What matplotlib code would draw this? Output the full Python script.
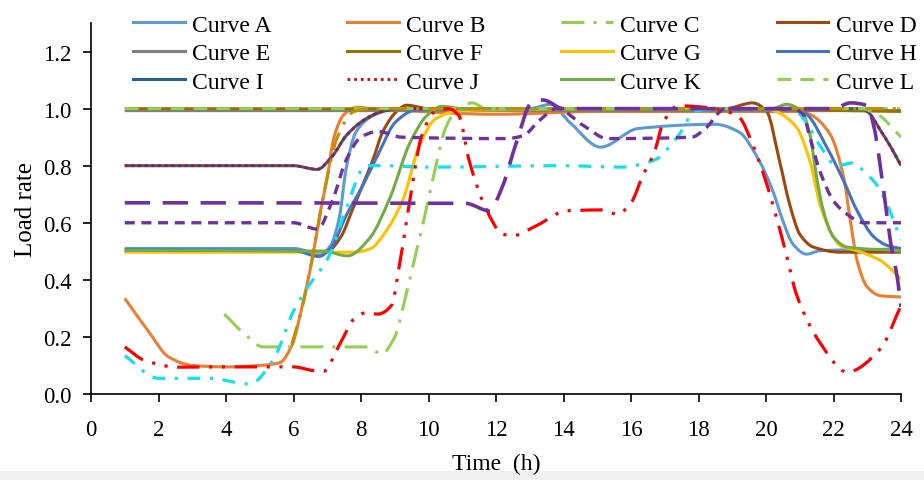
""" =======================  Import dependencies ========================== """
import numpy as np
import matplotlib
matplotlib.use('Agg')
from matplotlib import pyplot as plt
from matplotlib.path import Path
from matplotlib.patches import PathPatch, Rectangle
from matplotlib.lines import Line2D
from matplotlib.ticker import FormatStrFormatter

plt.rcParams['font.family'] = ['Liberation Serif', 'DejaVu Serif']

""" =======================  Data read from the chart ======================= """
A_x = [1, 6.0, 6.8, 7.1, 7.36, 7.56, 7.85, 8.35, 9.0, 13.0, 13.6, 14.2, 15.1, 16.2, 18.5, 19.2, 19.8, 20.2, 20.5, 20.8, 21.2, 21.6, 24]
A_y = [0.51, 0.51, 0.49, 0.52, 0.62, 0.79, 0.918, 0.975, 1.0, 1.0, 1.015, 0.95, 0.865, 0.93, 0.945, 0.918, 0.817, 0.712, 0.607, 0.525, 0.49, 0.502, 0.508]

B_x = [1, 1.7, 2.3, 3.0, 4.0, 5.0, 5.6, 5.95, 6.3, 6.55, 6.8, 7.0, 7.2, 7.5, 7.9, 8.3, 9.0, 12.0, 15.0, 21.0, 21.3, 21.9, 22.3, 22.5, 22.7, 23.0, 23.4, 24]
B_y = [0.335, 0.22, 0.13, 0.1, 0.095, 0.1, 0.11, 0.17, 0.33, 0.47, 0.64, 0.76, 0.9, 0.98, 1.005, 1.0, 0.995, 0.98, 0.99, 0.99, 0.98, 0.91, 0.76, 0.607, 0.467, 0.375, 0.344, 0.34]

C_x = [3.95, 4.6, 5.1, 6.0, 8.2, 8.6, 9.0, 9.3, 9.6, 9.9, 10.2, 10.5, 10.8, 11.3, 11.7, 12.5, 24]
C_y = [0.28, 0.205, 0.165, 0.165, 0.165, 0.14, 0.2, 0.33, 0.48, 0.63, 0.79, 0.93, 0.99, 1.02, 1.0, 1.0, 1.0]

D_x = [1, 7.0, 7.4, 7.76, 8.35, 8.65, 9.1, 9.35, 10.0, 18.8, 19.6, 20.02, 20.4, 20.7, 21.0, 21.4, 22.2, 24]
D_y = [0.5, 0.5, 0.55, 0.65, 0.82, 0.92, 0.995, 1.012, 1.0, 1.0, 1.02, 0.99, 0.817, 0.665, 0.56, 0.515, 0.497, 0.497]

E_x = [1, 24]
E_y = [0.993, 0.993]

F_x = [1, 20, 24]
F_y = [1.0, 0.997, 0.99]

G_x = [1, 7.8, 8.3, 8.65, 9.24, 9.73, 10.2, 10.8, 11.5, 20.0, 20.3, 20.9, 21.3, 21.6, 21.9, 22.2, 22.7, 23.4, 24]
G_y = [0.497, 0.497, 0.51, 0.555, 0.68, 0.87, 0.963, 0.99, 0.995, 1.0, 0.99, 0.935, 0.817, 0.665, 0.572, 0.52, 0.502, 0.467, 0.403]

H_x = [1, 6.0, 6.75, 7.1, 7.56, 8.05, 8.55, 9.0, 9.6, 10.2, 20.8, 21.2, 21.8, 22.3, 22.7, 23.2, 23.6, 24]
H_y = [0.505, 0.503, 0.482, 0.51, 0.625, 0.73, 0.85, 0.95, 0.995, 1.0, 1.0, 0.98, 0.865, 0.747, 0.642, 0.55, 0.52, 0.51]

I_x = [1, 6.0, 6.7, 7.16, 7.56, 8.05, 8.55, 9.1, 10.0, 22.8, 23.0, 23.4, 23.7, 24]
I_y = [0.8, 0.8, 0.787, 0.835, 0.905, 0.957, 0.987, 1.0, 1.0, 1.0, 0.99, 0.922, 0.865, 0.8]

J_x = I_x
J_y = I_y

K_x = [1, 6.9, 7.6, 8.25, 8.85, 9.45, 9.95, 10.4, 11.0, 20.2, 20.6, 21.06, 21.3, 21.5, 21.7, 22.0, 22.4, 24]
K_y = [0.503, 0.5, 0.484, 0.545, 0.685, 0.88, 0.975, 1.008, 1.0, 1.0, 1.015, 0.99, 0.91, 0.76, 0.642, 0.55, 0.515, 0.502]

L_x = [1, 22.8, 23.3, 24]
L_y = [1.0, 1.0, 0.98, 0.9]

# series without a legend entry
M_x = [1, 1.6, 2.6, 4.0, 6.0, 6.6, 6.9, 7.35, 7.85, 8.15, 8.5, 8.9, 9.15, 9.45, 9.8, 10.2, 10.6, 10.9, 11.2, 11.7, 12.2, 12.5, 13.2, 14.1, 15.1, 15.6, 16.0, 16.35, 16.7, 16.95, 17.4, 18.5, 19.2, 19.6, 19.9, 20.2, 20.6, 20.9, 21.6, 22.4, 23.4, 24]
M_y = [0.165, 0.117, 0.094, 0.095, 0.095, 0.082, 0.08, 0.17, 0.27, 0.285, 0.28, 0.31, 0.46, 0.68, 0.905, 0.99, 1.0, 0.975, 0.82, 0.65, 0.56, 0.555, 0.59, 0.642, 0.645, 0.63, 0.67, 0.765, 0.85, 0.95, 1.01, 1.0, 0.97, 0.876, 0.78, 0.665, 0.49, 0.35, 0.18, 0.077, 0.16, 0.31]

N_x = [1, 2.0, 3.5, 4.7, 5.4, 6.0, 6.4, 7.06, 7.56, 8.15, 8.6, 10.0, 14.0, 15.7, 16.7, 17.4, 17.9, 18.5, 20.8, 21.2, 21.6, 22.1, 22.6, 22.9, 23.3, 23.6, 24]
N_y = [0.134, 0.055, 0.055, 0.035, 0.12, 0.29, 0.37, 0.485, 0.65, 0.8, 0.8, 0.795, 0.8, 0.795, 0.82, 0.905, 0.99, 1.0, 1.0, 0.95, 0.87, 0.8, 0.81, 0.78, 0.73, 0.66, 0.54]

O_x = [1, 11.1, 11.8, 12.2, 12.6, 13.05, 13.4, 14.0, 22.0, 22.5, 23.0, 23.2, 23.5, 23.7, 23.9, 24]
O_y = [0.67, 0.668, 0.642, 0.73, 0.88, 1.02, 1.03, 1.0, 1.0, 1.02, 1.01, 0.935, 0.70, 0.525, 0.4, 0.305]

P_x = [1, 6.0, 6.7, 7.16, 7.56, 8.0, 8.5, 9.2, 12.3, 12.8, 13.3, 13.8, 14.6, 15.3, 17.8, 18.2, 18.8, 20.8, 21.1, 21.3, 21.6, 22.0, 22.4, 22.9, 24]
P_y = [0.6, 0.6, 0.578, 0.68, 0.82, 0.9, 0.92, 0.9, 0.895, 0.905, 0.96, 1.0, 0.94, 0.895, 0.9, 0.93, 1.0, 1.0, 0.98, 0.9, 0.78, 0.677, 0.63, 0.6, 0.6]

Q_x = [5.95, 6.25, 6.5, 6.77, 7.0, 7.3, 7.8, 8.3, 24]
Q_y = [0.175, 0.3, 0.44, 0.62, 0.76, 0.9, 0.99, 1.0, 1.0]

x_ticks = np.arange(0, 25, 2)
y_ticks = [0.0, 0.2, 0.4, 0.6, 0.8, 1.0, 1.2]

""" =======================  Function definitions  ========================== """
def SmoothPath(xs, ys):
    # monotone cubic through the points, drawn as bezier segments (like excel smooth line)
    xs = np.asarray(xs, float)
    ys = np.asarray(ys, float)
    h = np.diff(xs)
    d = np.diff(ys) / h
    n = len(xs)
    m = np.zeros(n)
    for i in range(1, n - 1):
        if d[i - 1] * d[i] > 0:
            w1 = 2 * h[i] + h[i - 1]
            w2 = h[i] + 2 * h[i - 1]
            m[i] = (w1 + w2) / (w1 / d[i - 1] + w2 / d[i])
    m[0] = d[0]
    m[-1] = d[-1]
    verts = [(xs[0], ys[0])]
    codes = [Path.MOVETO]
    for i in range(n - 1):
        verts.append((xs[i] + h[i] / 3, ys[i] + m[i] * h[i] / 3))
        verts.append((xs[i + 1] - h[i] / 3, ys[i + 1] - m[i + 1] * h[i] / 3))
        verts.append((xs[i + 1], ys[i + 1]))
        codes += [Path.CURVE4] * 3
    return Path(verts, codes)

""" =======================  Plot ======================= """
solid = '-'
# (label, x, y, color, width, style) in drawing order
series = [
    ('Curve A', A_x, A_y, '#5B9BD5', 2.2, solid),
    ('Curve B', B_x, B_y, '#ED7D31', 2.2, solid),
    ('Curve C', C_x, C_y, '#92D050', 2.2, (0, (7.5, 3, 1, 3))),
    ('Curve D', D_x, D_y, '#9E480E', 2.2, solid),
    ('Curve E', E_x, E_y, '#7F7F7F', 2.2, solid),
    ('Curve F', F_x, F_y, '#997300', 2.2, solid),
    ('Curve G', G_x, G_y, '#FFC000', 2.2, solid),
    ('Curve H', H_x, H_y, '#4472C4', 2.2, solid),
    ('Curve I', I_x, I_y, '#255E91', 2.2, solid),
    ('Curve J', J_x, J_y, '#E00000', 2.0, (0, (1, 1.4))),
    ('Curve K', K_x, K_y, '#70AD47', 2.2, solid),
    ('Curve L', L_x, L_y, '#92D050', 2.2, (0, (4.5, 3))),
    (None, Q_x, Q_y, '#BF9000', 2.2, (0, (6, 3, 1, 3))),
    (None, N_x, N_y, '#13E0EE', 2.3, (0, (4, 3, 1, 3))),
    (None, M_x, M_y, '#FF0000', 2.3, (0, (7, 3, 1, 3, 1, 3))),
    (None, P_x, P_y, '#7030A0', 2.4, (0, (3, 2))),
    (None, O_x, O_y, '#7030A0', 2.6, (0, (7, 3.5))),
]

fig = plt.figure(figsize=(9.24, 4.81), dpi=100)
fig.patches.append(Rectangle((0, 0), 1, 9 / 481, transform=fig.transFigure,
                             facecolor='#F0F0F0', edgecolor='none', zorder=-5))
ax = fig.add_axes([91 / 924, 86 / 481, 810 / 924, 371 / 481])
ax.patch.set_alpha(0)

handles = {}
for label, xs, ys, color, lw, ls in series:
    patch = PathPatch(SmoothPath(xs, ys), fill=False, edgecolor=color, lw=lw,
                      linestyle=ls, joinstyle='round', capstyle='butt')
    ax.add_patch(patch)
    if label is not None:
        handles[label] = Line2D([], [], color=color, lw=lw, linestyle=ls)

ax.set_xlim(0, 24)
ax.set_ylim(0, 1.3)
ax.set_xticks(x_ticks)
ax.set_yticks(y_ticks)
ax.yaxis.set_major_formatter(FormatStrFormatter('%.1f'))
for s in ['top', 'right']:
    ax.spines[s].set_visible(False)
for s in ['left', 'bottom']:
    ax.spines[s].set_linewidth(1.2)
ax.tick_params(axis='both', direction='out', length=6, width=1.2, labelsize=16.5)
ax.tick_params(axis='y', pad=8)
ax.tick_params(axis='x', pad=12)
ax.set_xlabel('Time  (h)', fontsize=17, labelpad=9)
ax.set_ylabel('Load rate', fontsize=18, labelpad=4)

# legend is filled row by row in the chart: A B C D / E F G H / I J K L
order = ['Curve A', 'Curve E', 'Curve I', 'Curve B', 'Curve F', 'Curve J',
         'Curve C', 'Curve G', 'Curve K', 'Curve D', 'Curve H', 'Curve L']
ax.legend([handles[k] for k in order], order, loc='upper left', ncol=4,
          bbox_to_anchor=(133 / 924, 1 - 15 / 481), bbox_transform=fig.transFigure,
          frameon=False, fontsize=17, handlelength=2.2, handletextpad=0.3,
          columnspacing=3.2, labelspacing=0.3, borderpad=0, borderaxespad=0)

fig.savefig('out.png', dpi=100)
